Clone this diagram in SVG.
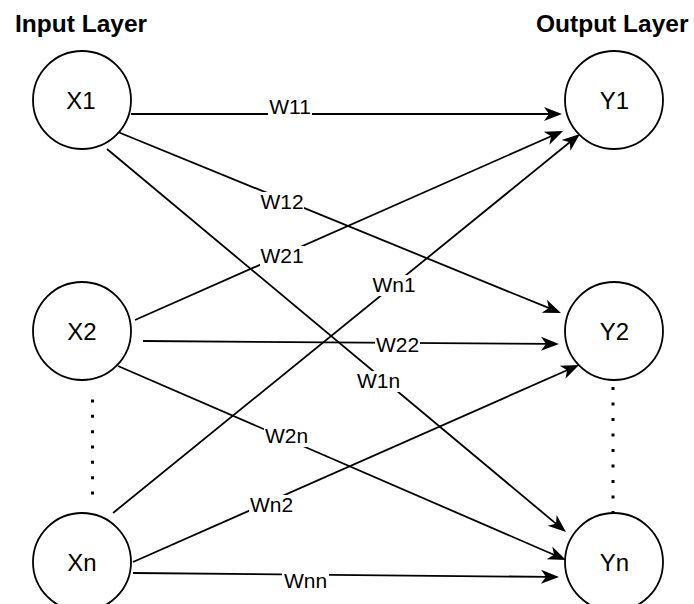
<svg xmlns="http://www.w3.org/2000/svg" width="694" height="604" viewBox="0 0 694 604">
  <style>
    .node circle { fill: #ffffff; stroke: #000000; stroke-width: 1.8; }
    .node text { font-family: "Liberation Sans", Arial, sans-serif; font-size: 24px; fill: #000000; text-anchor: middle; }
    .head { font-family: "Liberation Sans", Arial, sans-serif; font-size: 24.5px; font-weight: bold; fill: #000000; }
    .edge { fill: none; stroke: #000000; stroke-width: 1.8; marker-end: url(#arrow); }
    .lbl rect { fill: #ffffff; }
    .lbl text { font-family: "Liberation Sans", Arial, sans-serif; font-size: 21px; fill: #000000; text-anchor: middle; }
    .dots { fill: none; stroke: #000000; stroke-width: 3; }
  </style>
  <defs>
    <!-- classic notched arrowhead; tip sits 10px past the line end -->
    <marker id="arrow" markerUnits="userSpaceOnUse" viewBox="-19 -8 21 16" refX="-10" refY="0" markerWidth="21" markerHeight="16" orient="auto">
      <path d="M0,0 L-18,-7 L-13,0 L-18,7 Z" fill="#000000"/>
    </marker>
  </defs>
  <rect width="694" height="604" fill="#ffffff"/>

  <!-- layer headings -->
  <text class="head" x="15" y="32">Input Layer</text>
  <text class="head" x="536" y="32">Output Layer</text>

  <!-- ellipsis between hidden neurons -->
  <line class="dots" x1="92.5" y1="399.5" x2="92.5" y2="496" stroke-dasharray="3 12.33"/>
  <line class="dots" x1="613" y1="387" x2="613" y2="514" stroke-dasharray="3 12.5"/>

  <!-- weighted connections -->
  <g id="connectors">
    <path class="edge" d="M131,114 L552,114"/>
    <path class="edge" d="M113,130 L551.7,309.2"/>
    <path class="edge" d="M107,149 L558.3,525.6"/>
    <path class="edge" d="M135,320 L553.9,135"/>
    <path class="edge" d="M143,341 L549,343.9"/>
    <path class="edge" d="M118,366 L556.8,556"/>
    <path class="edge" d="M113,513 L572.2,140.3"/>
    <path class="edge" d="M133,562 L569.9,369"/>
    <path class="edge" d="M133,573 L549,576.9"/>

    <g class="lbl"><rect x="268" y="97" width="44" height="21"/><text x="290" y="114">W11</text></g>
    <g class="lbl"><rect x="260" y="192" width="44" height="21"/><text x="282" y="209">W12</text></g>
    <g class="lbl"><rect x="260" y="246" width="44" height="21"/><text x="282" y="263">W21</text></g>
    <g class="lbl"><rect x="371" y="275" width="46" height="21"/><text x="394" y="292">Wn1</text></g>
    <g class="lbl"><rect x="375" y="335" width="45" height="21"/><text x="397.5" y="352">W22</text></g>
    <g class="lbl"><rect x="356" y="371" width="45" height="21"/><text x="378.5" y="388">W1n</text></g>
    <g class="lbl"><rect x="264" y="426" width="45" height="21"/><text x="286.5" y="443">W2n</text></g>
    <g class="lbl"><rect x="249" y="495" width="45" height="21"/><text x="271.5" y="512">Wn2</text></g>
    <g class="lbl"><rect x="282" y="571" width="47" height="21"/><text x="305.5" y="588">Wnn</text></g>
  </g>

  <!-- input neurons -->
  <g id="X1" class="node"><circle cx="82" cy="100" r="49"/><text x="81" y="108.5">X1</text></g>
  <g id="X2" class="node"><circle cx="82" cy="331" r="49"/><text x="82" y="339.5">X2</text></g>
  <g id="Xn" class="node"><circle cx="82" cy="562" r="49"/><text x="82" y="570.5">Xn</text></g>

  <!-- output neurons -->
  <g id="Y1" class="node"><circle cx="614" cy="100" r="49"/><text x="614.5" y="108.5">Y1</text></g>
  <g id="Y2" class="node"><circle cx="614" cy="331" r="49"/><text x="614.5" y="339.5">Y2</text></g>
  <g id="Yn" class="node"><circle cx="614" cy="562" r="49"/><text x="614.5" y="570.5">Yn</text></g>
</svg>
